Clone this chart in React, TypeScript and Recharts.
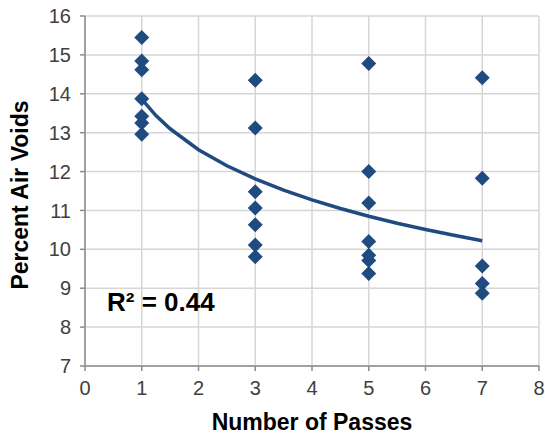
import { ScatterChart, Scatter, XAxis, YAxis, CartesianGrid } from "recharts";

const BLUE = "#1f4b80";
const GRID = "#d6d6d6";
const AXIS = "#8c8c8c";
const FONT = "'Liberation Sans', Arial, sans-serif";

// passes per sample
const passes = [1, 1, 1, 1, 1, 1, 1, 3, 3, 3, 3, 3, 3, 3, 5, 5, 5, 5, 5, 5, 5, 7, 7, 7, 7, 7];
// percent air voids
const voids = [
  15.45, 14.84, 14.62, 13.87, 13.42, 13.25, 12.96,
  14.35, 13.12, 11.48, 11.06, 10.63, 10.11, 9.81,
  14.78, 12.0, 11.19, 10.2, 9.85, 9.71, 9.38,
  14.41, 11.83, 9.57, 9.12, 8.87,
];

// log trend line
const trendX = [1, 1.25, 1.5, 2, 2.5, 3, 3.5, 4, 4.5, 5, 5.5, 6, 6.5, 7];
const trendY = [13.86, 13.44, 13.1, 12.56, 12.15, 11.81, 11.52, 11.27, 11.05, 10.85, 10.67, 10.51, 10.36, 10.22];

const xTicks = [0, 1, 2, 3, 4, 5, 6, 7, 8];
const yTicks = [7, 8, 9, 10, 11, 12, 13, 14, 15, 16];

const points = passes.map((x, i) => ({ x, y: voids[i] }));
const trend = trendX.map((x, i) => ({ x, y: trendY[i] }));

/* eslint-disable @typescript-eslint/no-explicit-any */
function Diamond(props: any) {
  const { cx, cy } = props;
  const r = 7.5;
  return <polygon points={`${cx},${cy - r} ${cx + r},${cy} ${cx},${cy + r} ${cx - r},${cy}`} fill={BLUE} />;
}
function NoDot() {
  return <g />;
}
/* eslint-enable @typescript-eslint/no-explicit-any */

const tickStyle = { fill: "#404040", fontSize: 20, fontFamily: FONT };

export default function App() {
  return (
    <div style={{ position: "absolute", left: 0, top: 0, width: 545, height: 441, background: "#fff", fontFamily: FONT }}>
      <ScatterChart width={545} height={441} margin={{ top: 16, right: 6, bottom: 35, left: 15 }}>
        <CartesianGrid stroke={GRID} strokeWidth={1.5} />
        <XAxis
          type="number" dataKey="x" domain={[0, 8]} ticks={xTicks} height={40}
          tick={tickStyle} tickSize={5} tickMargin={10}
          stroke={AXIS} strokeWidth={1.5} allowDataOverflow
        />
        <YAxis
          type="number" dataKey="y" domain={[7, 16]} ticks={yTicks} width={70}
          tick={tickStyle} tickSize={5} tickMargin={9}
          stroke={AXIS} strokeWidth={1.5} allowDataOverflow
        />
        <Scatter data={trend} line={{ stroke: BLUE, strokeWidth: 3.5 }} shape={<NoDot />} isAnimationActive={false} />
        <Scatter data={points} shape={<Diamond />} isAnimationActive={false} />
      </ScatterChart>
      <div style={{ position: "absolute", left: 107, top: 289, fontSize: 26, fontWeight: 700, color: "#000", lineHeight: "26px" }}>
        R² = 0.44
      </div>
      <div style={{ position: "absolute", left: 0, top: 411, width: 624, textAlign: "center", fontSize: 23, fontWeight: 700, color: "#000", lineHeight: "23px" }}>
        Number of Passes
      </div>
      <div style={{ position: "absolute", left: 20, top: 195, width: 0, height: 0 }}>
        <div style={{ position: "absolute", left: -120, top: -12, width: 240, textAlign: "center", transform: "rotate(-90deg)", transformOrigin: "120px 12px", fontSize: 23, fontWeight: 700, color: "#000", lineHeight: "24px", whiteSpace: "nowrap" }}>
          Percent Air Voids
        </div>
      </div>
    </div>
  );
}
